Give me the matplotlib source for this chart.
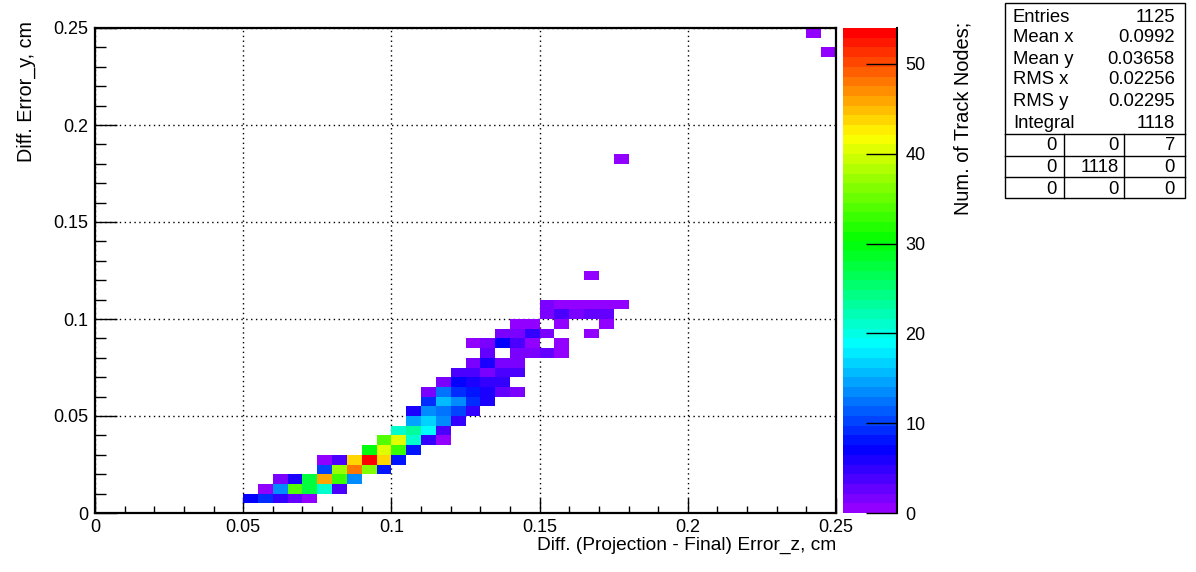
import colorsys
import numpy as np
import matplotlib
matplotlib.use("Agg")
import matplotlib.pyplot as plt
from matplotlib.colors import ListedColormap, Normalize
from matplotlib.ticker import MultipleLocator, FuncFormatter
from matplotlib.lines import Line2D

plt.rcParams['font.family'] = ['Liberation Sans', 'DejaVu Sans']

# ---------------- data (2D histogram, 50x50 bins of 0.005 cm) ----------------
n_bins = 50
x_range = (0.0, 0.25)
y_range = (0.0, 0.25)

# y-bin index of each filled row, x-bin index of its first cell, counts per cell
row_bins = [1, 2, 3, 4, 5, 6, 7, 8, 9, 10, 11, 12, 13, 14, 15, 16, 17, 18, 19, 20, 21, 24, 36, 47, 49]
row_starts = [10, 11, 12, 15, 15, 18, 19, 20, 21, 21, 22, 22, 23, 24, 25, 26, 25, 27, 28, 30, 30, 33, 35, 49, 48]
row_counts = [
    [7, 9, 5, 3, 1],
    [1, 14, 34, 27, 21, 4],
    [2, 6, 27, 46, 33, 14],
    [10, 37, 48, 36, 8],
    [1, 4, 44, 54, 44, 8],
    [30, 40, 33, 8],
    [34, 40, 21, 5, 1],
    [21, 23, 19, 4],
    [15, 17, 13, 5],
    [6, 14, 12, 10, 5],
    [9, 16, 13, 9, 6],
    [2, 12, 9, 8, 6, 3, 2],
    [2, 7, 6, 5, 5],
    [4, 4, 2, 4, 4],
    [2, 6, 2, 2],
    [3, 0, 2, 2, 3, 1],
    [1, 2, 7, 4, 1, 0, 1],
    [2, 2, 5, 2, 0, 0, 1],
    [1, 1, 0, 1, 0, 0, 1],
    [2, 4, 2, 3, 3],
    [2, 1, 1, 1, 1, 1],
    [1],
    [1],
    [1],
    [1],
]
z_max = 54.0

stats_labels = ["Entries", "Mean x", "Mean y", "RMS x", "RMS y", "Integral"]
stats_values = ["1125", "0.0992", "0.03658", "0.02256", "0.02295", "1118"]
overflow_table = [["0", "0", "7"], ["0", "1118", "0"], ["0", "0", "0"]]

x_title = "Diff. (Projection - Final) Error_z, cm"
y_title = "Diff. Error_y, cm"
z_title = "Num. of Track Nodes;"

# ---------------- build histogram ----------------
H = np.zeros((n_bins, n_bins))
for j, s, cnts in zip(row_bins, row_starts, row_counts):
    for k, c in enumerate(cnts):
        H[j, s + k] = c
Hm = np.ma.masked_where(H <= 0, H)
xe = np.linspace(*x_range, n_bins + 1)
ye = np.linspace(*y_range, n_bins + 1)

# ROOT "pretty" palette (violet -> red), 50 colours in HLS
cols = []
for i in range(50):
    hue = 280.0 - (i + 1) * (280.0 / 50)
    cols.append(colorsys.hls_to_rgb(hue / 360.0, 0.5, 1.0))
cmap = ListedColormap(cols)
cmap.set_bad((1, 1, 1, 0))

W, Hpx = 1196, 572
fig = plt.figure(figsize=(W / 100, Hpx / 100), dpi=100)

def fx(px):
    return px / W

def fy(py):
    return 1 - py / Hpx

ax = fig.add_axes([fx(95), fy(513), (836 - 95) / W, (513 - 28) / Hpx])
mesh = ax.pcolormesh(xe, ye, Hm, cmap=cmap, norm=Normalize(0, z_max), zorder=2)
ax.set_xlim(*x_range)
ax.set_ylim(*y_range)

fmt = FuncFormatter(lambda v, p: "%g" % round(v, 4))
for axis in (ax.xaxis, ax.yaxis):
    axis.set_major_locator(MultipleLocator(0.05))
    axis.set_minor_locator(MultipleLocator(0.01))
    axis.set_major_formatter(fmt)
ax.tick_params(axis='x', which='major', direction='in', length=10.5, width=1, labelsize=13, pad=4)
ax.tick_params(axis='x', which='minor', direction='in', length=5.2, width=1)
ax.tick_params(axis='y', which='major', direction='in', length=16, width=1, labelsize=13, pad=5)
ax.tick_params(axis='y', which='minor', direction='in', length=8, width=1)
ax.grid(True, which='major', color='black', linestyle=(0, (1, 2.5)), linewidth=1.0, zorder=1)
ax.set_axisbelow(True)
for sp in ax.spines.values():
    sp.set_linewidth(1.6)

# colour bar
cax = fig.add_axes([fx(843), fy(513), (897 - 843) / W, (513 - 28) / Hpx])
cb = fig.colorbar(mesh, cax=cax)
cb.outline.set_visible(False)
cb.set_ticks([0, 10, 20, 30, 40, 50])
cax.tick_params(direction='in', length=22, width=1, labelsize=13, pad=6, right=True)
cax.plot([1, 1], [0, 1], transform=cax.transAxes, color='black', lw=1.5, clip_on=False)

# titles
fig.text(fx(836), fy(545), x_title, ha='right', va='center', fontsize=13.8)
fig.text(fx(26), fy(21), y_title, ha='center', va='top', rotation=90, fontsize=14.2)
fig.text(fx(963), fy(22), z_title, ha='center', va='top', rotation=90, fontsize=14.4)

# statistics box
bx0, bx1, by0, by1 = 1005, 1185, 3, 198
fig.patches.append(plt.Rectangle((fx(bx0), fy(by1)), (bx1 - bx0) / W, (by1 - by0) / Hpx,
                                 transform=fig.transFigure, facecolor='white',
                                 edgecolor='black', lw=1.0))
sfs = 13.3
row_y = [17, 38, 59, 80, 101, 123]
for lab, val, yy in zip(stats_labels, stats_values, row_y):
    fig.text(fx(1013), fy(yy), lab, ha='left', va='center', fontsize=sfs)
    fig.text(fx(1175), fy(yy), val, ha='right', va='center', fontsize=sfs)
for yy in [134, 155.5, 177]:
    fig.add_artist(Line2D([fx(bx0), fx(bx1)], [fy(yy), fy(yy)], color='black', lw=1.0))
for xx in [1064, 1124]:
    fig.add_artist(Line2D([fx(xx), fx(xx)], [fy(134), fy(by1)], color='black', lw=1.0))
tab_y = [146, 167, 189]
col_right = [1057, 1119, 1175]
for r, yy in zip(overflow_table, tab_y):
    for v, xr in zip(r, col_right):
        fig.text(fx(xr), fy(yy), v, ha='right', va='center', fontsize=sfs)

fig.savefig("out.png", dpi=100)
